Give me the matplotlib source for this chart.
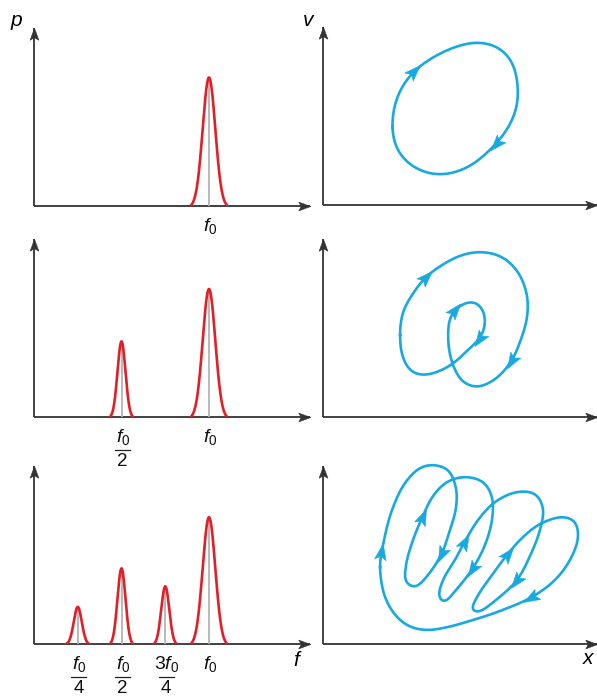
import numpy as np
import matplotlib
matplotlib.use('Agg')
import matplotlib.pyplot as plt
from matplotlib.path import Path
from matplotlib.markers import MarkerStyle
from matplotlib.transforms import Affine2D, ScaledTranslation

plt.rcParams['mathtext.fontset'] = 'custom'
plt.rcParams['mathtext.rm'] = 'Liberation Sans'
plt.rcParams['mathtext.it'] = 'Liberation Sans:italic'
plt.rcParams['font.family'] = ['Liberation Sans', 'DejaVu Sans']

# ---------------- data ----------------
# power spectra (frequency in units of f0, power normalised to main peak)
spec1_freq = [1.0]
spec1_pow = [1.0]
spec1_sigma = [0.036]
spec1_num = [r'$f_0$']
spec1_den = [None]

spec2_freq = [0.5, 1.0]
spec2_pow = [0.59, 1.0]
spec2_sigma = [0.023, 0.036]
spec2_num = [r'$f_0$', r'$f_0$']
spec2_den = ['2', None]

spec3_freq = [0.25, 0.5, 0.75, 1.0]
spec3_pow = [0.29, 0.59, 0.45, 0.99]
spec3_sigma = [0.023, 0.023, 0.023, 0.036]
spec3_num = [r'$f_0$', r'$f_0$', r'$3f_0$', r'$f_0$']
spec3_den = ['4', '2', '4', None]

# phase-space orbits (x, v)
orbit1_x = [69, 74, 90, 124, 155, 177, 190, 195, 194, 184, 167, 144, 115, 90, 74]
orbit1_v = [78, 108, 133, 155, 163, 157, 142, 118, 98, 75, 55, 37, 30, 38, 55]
orbit1_arrows = [(90, 133), (174, 62)]

orbit2_x = [77, 80, 89, 102, 119, 139, 159, 179, 195, 204, 204, 197, 189, 175, 155,
            140, 132, 127, 125, 127, 132, 142, 152, 160, 162, 157, 147, 132, 119,
            102, 89, 80]
orbit2_v = [82, 105, 122, 139, 152, 162, 165, 160, 145, 122, 99, 75, 57, 40, 30,
            35, 47, 62, 82, 99, 107, 114, 115, 107, 92, 79, 69, 55, 47,
            42, 45, 59]
orbit2_arrows = [(102, 139), (189, 57), (131, 106), (157, 79)]

orbit3_x = [57, 60, 69, 82, 97, 110, 125, 133, 133, 127, 119, 105, 92, 83, 83,
            90, 99, 110, 124, 142, 160, 169, 169, 162, 150, 133, 121, 116, 120,
            132, 141, 155, 172, 194, 212, 220, 217, 207, 194, 173, 155, 149, 154,
            169, 184, 199, 217, 240, 252, 255, 247, 232, 209, 177, 150, 125, 105,
            88, 74, 62]
orbit3_v = [77, 99, 134, 161, 176, 179, 174, 156, 136, 114, 91, 69, 57, 62, 79,
            104, 126, 148, 162, 167, 162, 147, 124, 99, 76, 54, 42, 47, 64,
            84, 101, 124, 142, 152, 150, 136, 114, 88, 64, 44, 32, 34, 47,
            69, 89, 106, 120, 127, 122, 106, 84, 64, 47, 33, 24, 17, 14,
            17, 27, 47]
orbit3_arrows = [(58, 91), (119, 91), (99, 126), (150, 76), (141, 101),
                 (194, 64), (184, 89), (209, 47)]

# ---------------- style / layout ----------------
W, H = 597, 698
RED = '#e41e26'
BLUE = '#18a9e1'
AX = '#333333'
GRAY = '#b3b3b3'
PT = 0.72   # points per pixel at 100 dpi

fig = plt.figure(figsize=(W / 100, H / 100), dpi=100)
fig.patch.set_facecolor('white')

def px_axes(x0, base, w, h):
    return fig.add_axes([x0 / W, (H - base) / H, w / W, h / H])

STEALTH = Path([(1.0, 0.0), (-0.65, 0.6), (-0.3, 0.0), (-0.65, -0.6), (1.0, 0.0)],
               [Path.MOVETO, Path.LINETO, Path.LINETO, Path.LINETO, Path.CLOSEPOLY])

def arrowhead(ax, x, y, angle, color, ms, offset_pts=0.0):
    m = MarkerStyle(STEALTH, transform=Affine2D().rotate_deg(angle))
    tr = ax.transData
    if offset_pts:
        a = np.deg2rad(angle)
        tr = tr + ScaledTranslation(-offset_pts * np.cos(a) / 72, -offset_pts * np.sin(a) / 72,
                                    fig.dpi_scale_trans)
    ax.plot([x], [y], marker=m, ms=ms, color=color, mec=color, mew=0.4,
            transform=tr, clip_on=False, zorder=5)

def draw_axes_lines(ax, xmax, ymax):
    ax.plot([0, xmax], [0, 0], color=AX, lw=1.3, clip_on=False, solid_capstyle='butt')
    ax.plot([0, 0], [0, ymax], color=AX, lw=1.3, clip_on=False, solid_capstyle='butt')
    arrowhead(ax, xmax, 0, 0, AX, 10.5, offset_pts=5.2)
    arrowhead(ax, 0, ymax, 90, AX, 10.5, offset_pts=5.2)

def catmull_closed(xs, ys, n=40):
    P = np.column_stack([xs, ys]).astype(float)
    N = len(P)
    out = []
    for i in range(N):
        p0, p1, p2, p3 = P[(i - 1) % N], P[i], P[(i + 1) % N], P[(i + 2) % N]
        t0 = 0.0
        t1 = t0 + np.linalg.norm(p1 - p0) ** 0.5
        t2 = t1 + np.linalg.norm(p2 - p1) ** 0.5
        t3 = t2 + np.linalg.norm(p3 - p2) ** 0.5
        t = np.linspace(t1, t2, n, endpoint=False)[:, None]
        A1 = (t1 - t) / (t1 - t0) * p0 + (t - t0) / (t1 - t0) * p1
        A2 = (t2 - t) / (t2 - t1) * p1 + (t - t1) / (t2 - t1) * p2
        A3 = (t3 - t) / (t3 - t2) * p2 + (t - t2) / (t3 - t2) * p3
        B1 = (t2 - t) / (t2 - t0) * A1 + (t - t0) / (t2 - t0) * A2
        B2 = (t3 - t) / (t3 - t1) * A2 + (t - t1) / (t3 - t1) * A3
        out.append((t2 - t) / (t2 - t1) * B1 + (t - t1) / (t2 - t1) * B2)
    return np.vstack(out)

def smooth_closed(C, step=0.5, sigma=3.0):
    # resample uniformly by arc length, then circular gaussian smoothing
    Cc = np.vstack([C, C[:1]])
    seg = np.hypot(np.diff(Cc[:, 0]), np.diff(Cc[:, 1]))
    s = np.concatenate([[0], np.cumsum(seg)])
    L = s[-1]
    m = int(L / step)
    su = np.linspace(0, L, m, endpoint=False)
    xu = np.interp(su, s, Cc[:, 0])
    yu = np.interp(su, s, Cc[:, 1])
    k = np.arange(m)
    k = np.minimum(k, m - k) * (L / m)
    g = np.exp(-0.5 * (k / sigma) ** 2)
    g /= g.sum()
    G = np.fft.rfft(g)
    xs = np.fft.irfft(np.fft.rfft(xu) * G, m)
    ys = np.fft.irfft(np.fft.rfft(yu) * G, m)
    return np.column_stack([np.append(xs, xs[0]), np.append(ys, ys[0])])

# left spectra panels
F_PX = 175.0          # pixels per f0
P_PX = 128.0          # pixels per unit power
LW, RW, AH = 276, 274, 178
bases = [205.5, 417, 644]
specs = [(spec1_freq, spec1_pow, spec1_sigma, spec1_num, spec1_den),
         (spec2_freq, spec2_pow, spec2_sigma, spec2_num, spec2_den),
         (spec3_freq, spec3_pow, spec3_sigma, spec3_num, spec3_den)]

for base, (fr, pw, sg, nums, dens) in zip(bases, specs):
    ax = px_axes(34, base, LW, AH)
    ax.set_xlim(0, LW / F_PX)
    ax.set_ylim(0, AH / P_PX)
    ax.axis('off')
    draw_axes_lines(ax, LW / F_PX, AH / P_PX)
    for c, a, s, num, den in zip(fr, pw, sg, nums, dens):
        cut = 2.9 * s
        xx = np.linspace(c - cut, c + cut, 300)
        g = np.exp(-0.5 * ((xx - c) / s) ** 2)
        g0 = np.exp(-0.5 * 2.9 ** 2)
        yy = a * (g - g0) / (1 - g0)
        ax.plot([c, c], [0, a], color=GRAY, lw=1.3, zorder=2)
        ax.plot(xx, yy, color=RED, lw=1.9, zorder=3, solid_capstyle='round')
        ax.annotate(num, xy=(c, 0), xytext=(1.5 * PT, -10 * PT), textcoords='offset points',
                    ha='center', va='top', fontsize=14, color='#111111')
        if den is not None:
            half = (15 if len(num) < 8 else 28) / 2 / F_PX
            tr = ax.transData + ScaledTranslation(0, -33 / 100, fig.dpi_scale_trans)
            ax.plot([c - half + 1 / F_PX, c + half + 1 / F_PX], [0, 0], color='#222222',
                    lw=0.9, transform=tr, clip_on=False)
            ax.annotate(den, xy=(c, 0), xytext=(1 * PT, -36 * PT), textcoords='offset points',
                        ha='center', va='top', fontsize=13.5, color='#111111')

# right phase-space panels
orbits = [(orbit1_x, orbit1_v, orbit1_arrows),
          (orbit2_x, orbit2_v, orbit2_arrows),
          (orbit3_x, orbit3_v, orbit3_arrows)]
rbases = [205, 417, 644]
smooth_sig = [9.0, 5.0, 3.5]
for base, sig, (ox, ov, arr) in zip(rbases, smooth_sig, orbits):
    ax = px_axes(323, base, RW, AH)
    ax.set_xlim(0, RW)
    ax.set_ylim(0, AH)
    ax.axis('off')
    draw_axes_lines(ax, RW, AH)
    curve = smooth_closed(catmull_closed(ox, ov), sigma=sig)
    ax.plot(curve[:, 0], curve[:, 1], color=BLUE, lw=1.9, zorder=3, clip_on=False)
    n = len(curve) - 1
    for (axx, avv) in arr:
        d = np.hypot(curve[:-1, 0] - axx, curve[:-1, 1] - avv)
        k = int(np.argmin(d))
        k0, k1 = (k - 6) % n, (k + 6) % n
        ang = np.degrees(np.arctan2(curve[k1, 1] - curve[k0, 1], curve[k1, 0] - curve[k0, 0]))
        arrowhead(ax, curve[k, 0], curve[k, 1], ang, BLUE, 14)

# axis titles
fig.text(16 / W, 1 - 20 / H, 'p', fontsize=15, style='italic', ha='center', va='center')
fig.text(308 / W, 1 - 20 / H, 'v', fontsize=15, style='italic', ha='center', va='center')
fig.text(296 / W, 1 - 661 / H, 'f', fontsize=15, style='italic', ha='center', va='center')
fig.text(588 / W, 1 - 659 / H, 'x', fontsize=15, style='italic', ha='center', va='center')

fig.savefig('out.png', dpi=100, facecolor='white')
